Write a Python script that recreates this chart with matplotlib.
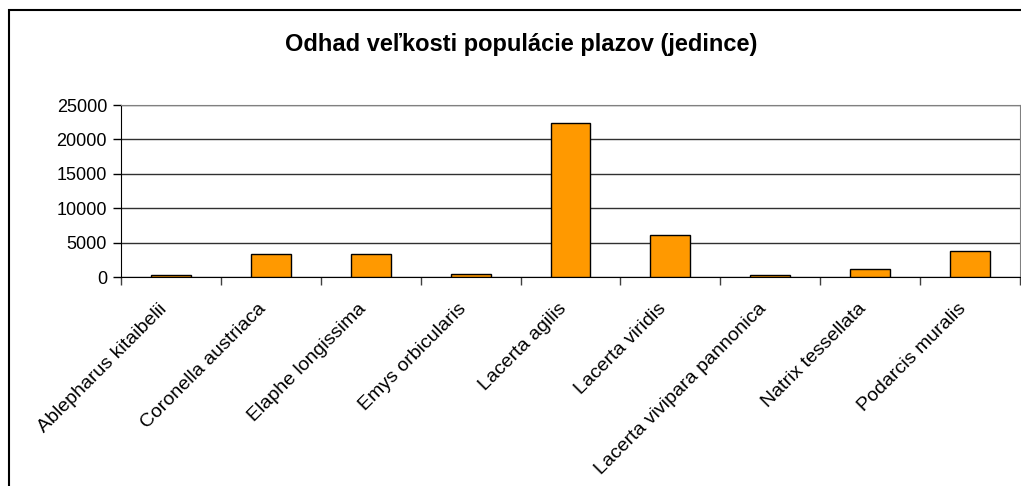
import matplotlib.pyplot as plt
from matplotlib.patches import Rectangle

species = ['Ablepharus kitaibelii', 'Coronella austriaca', 'Elaphe longissima',
           'Emys orbicularis', 'Lacerta agilis', 'Lacerta viridis',
           'Lacerta vivipara pannonica', 'Natrix tessellata', 'Podarcis muralis']
individuals = [250, 3300, 3300, 500, 22400, 6100, 250, 1150, 3750]
y_ticks = [0, 5000, 10000, 15000, 20000, 25000]

plt.rcParams['font.family'] = ['Liberation Sans', 'DejaVu Sans']

W, H = 1021, 486
fig = plt.figure(figsize=(W / 100, H / 100), dpi=100)
ax = fig.add_axes([121 / W, 1 - 277 / H, (1020 - 121) / W, (277 - 105) / H])

x = list(range(len(species)))
ax.bar(x, individuals, width=0.4, color='#FF9900', edgecolor='black', linewidth=1, zorder=3)

ax.set_xlim(-0.5, len(species) - 0.5)
ax.set_ylim(0, 25000)
ax.set_yticks(y_ticks)
ax.set_yticklabels([str(v) for v in y_ticks], fontsize=13)
ax.yaxis.grid(True, color='#303030', linewidth=1, zorder=0)
ax.tick_params(axis='y', direction='out', length=6, width=1, pad=4)

# category ticks sit between bars, labels at bar centres
ax.set_xticks([i - 0.5 for i in range(len(species) + 1)])
ax.set_xticklabels([])
ax.tick_params(axis='x', direction='out', length=6, width=1, color='#404040')
for i, name in enumerate(species):
    ax.annotate(name, xy=(i, 0), xycoords=('data', 'axes fraction'),
                xytext=(-5, -21), textcoords='offset points',
                rotation=45, rotation_mode='anchor', ha='right', va='center',
                fontsize=14)

for side in ['top', 'right']:
    ax.spines[side].set_color('#808080')
for side in ['left', 'bottom']:
    ax.spines[side].set_color('black')

fig.text(521 / W, 1 - 45 / H, 'Odhad veľkosti populácie plazov (jedince)',
         ha='center', va='center', fontsize=17, fontweight='bold')

# chart area frame (cut off at right and bottom)
fig.patches.append(Rectangle((9 / W, -0.1), 1.2, 1.1 - 10 / H,
                             transform=fig.transFigure, fill=False,
                             edgecolor='black', linewidth=1.5))

fig.savefig('out.png', dpi=100)
